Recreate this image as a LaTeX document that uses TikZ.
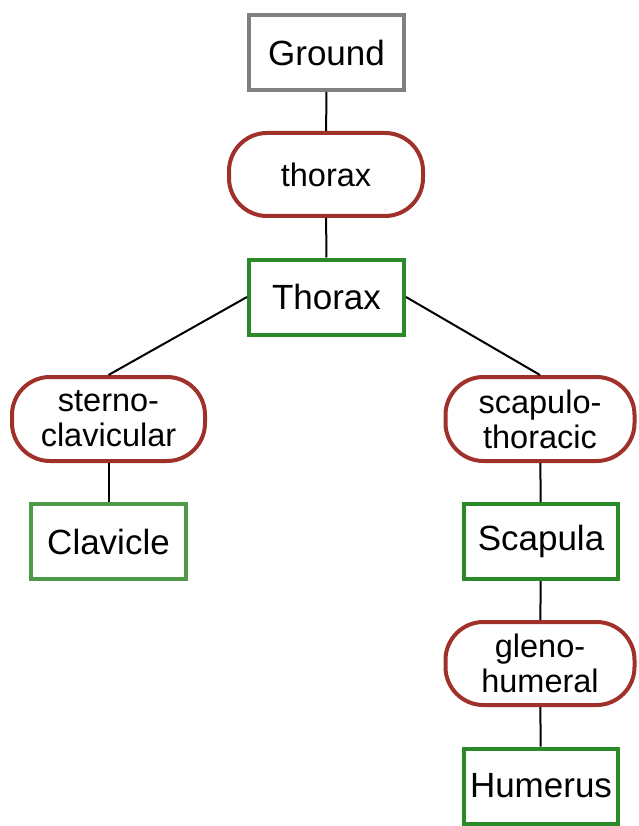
\documentclass[tikz,border=0pt]{standalone}
\usepackage{fontspec}
\setmainfont{Liberation Sans}
\definecolor{gnd}{HTML}{808080}
\definecolor{jnt}{HTML}{A0302A}
\definecolor{bdy}{HTML}{2A8A2A}
\definecolor{bdylight}{HTML}{4E9A48}
\begin{document}
\begin{tikzpicture}[x=1pt,y=-1pt,
  body/.style={draw=bdy,line width=4pt,minimum width=155pt,minimum height=75pt,inner sep=0pt,font=\fontsize{35}{38}\selectfont},
  joint/.style={draw=jnt,line width=4pt,rounded corners=38pt,minimum height=83pt,inner sep=0pt,align=center,font=\fontsize{32.5}{35}\selectfont},
  link/.style={line width=2pt,black}]
\useasboundingbox (0,0) rectangle (638,826);
\node[body,draw=gnd] (ground) at (326.5,52.5) {Ground};
\node[joint,minimum width=194pt] (jthorax) at (326,174.5) {thorax};
\node[body] (thorax) at (326.5,297) {Thorax};
\node[joint,minimum width=193pt,minimum height=84pt] (sterno) at (108.5,419) {sterno-\\clavicular};
\node[body,draw=bdylight] (clavicle) at (108.5,541.5) {Clavicle};
\node[joint,minimum width=189pt,minimum height=84pt] (scapulo) at (540,419) {scapulo-\\thoracic};
\node[body,minimum width=154pt] (scapula) at (541,541.5) {Scapula};
\node[joint,minimum width=189pt] (gleno) at (540,663.5) {gleno-\\humeral};
\node[body,minimum width=154pt] (humerus) at (541,786) {Humerus};
\draw[link] (ground) -- (jthorax);
\draw[link] (jthorax) -- (thorax);
\draw[link] (thorax.west) -- (sterno.north);
\draw[link] (thorax.east) -- (scapulo.north);
\draw[link] (sterno) -- (clavicle);
\draw[link] (scapulo) -- (scapula);
\draw[link] (scapula) -- (gleno);
\draw[link] (gleno) -- (humerus);
\end{tikzpicture}
\end{document}
